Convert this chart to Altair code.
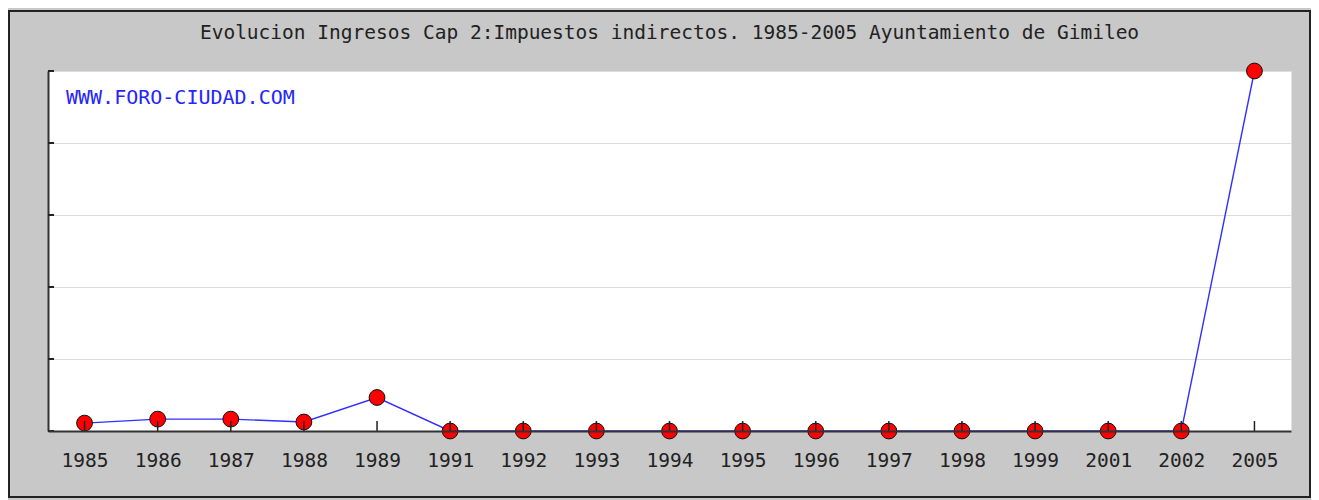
import altair as alt
import pandas as pd

years = ["1985", "1986", "1987", "1988", "1989", "1991", "1992", "1993", "1994",
         "1995", "1996", "1997", "1998", "1999", "2001", "2002", "2005"]
values = [2.2, 3.3, 3.3, 2.5, 9.3, 0, 0, 0, 0, 0, 0, 0, 0, 0, 0, 0, 100]
y_ticks = [0, 20, 40, 60, 80, 100]
title_text = "Evolucion Ingresos Cap 2:Impuestos indirectos. 1985-2005 Ayuntamiento de Gimileo"
watermark = "WWW.FORO-CIUDAD.COM"

W, H = 1243, 360
FONT = "DejaVu Sans Mono"

df = pd.DataFrame({"year": years, "value": values})
ticks_df = pd.DataFrame({"value": y_ticks})
one = pd.DataFrame({"k": [0]})

xenc = alt.X("year:O", sort=years, scale=alt.Scale(type="point", padding=0.5),
             axis=alt.Axis(title=None, ticks=False, grid=False, domain=True,
                           domainColor="#333333", domainWidth=2, zindex=1,
                           labelFont=FONT, labelFontSize=19.5, labelColor="#222222",
                           labelPadding=20, labelAngle=0))
yenc = alt.Y("value:Q", scale=alt.Scale(domain=[0, 100], nice=False, zero=True),
             axis=alt.Axis(title=None, labels=False, ticks=False, grid=True,
                           gridColor="#dcdcdc", gridWidth=1, values=y_ticks,
                           domain=True, domainColor="#333333", domainWidth=2))

frame = alt.Chart(one).mark_rect(fillOpacity=0, stroke="#222222", strokeWidth=2).encode(
    x=alt.value(-39), x2=alt.value(1262), y=alt.value(-60), y2=alt.value(426)
)

line = alt.Chart(df).mark_line(color="#3030ff", strokeWidth=1.4).encode(x=xenc, y=yenc)
points = alt.Chart(df).mark_point(filled=True, shape="circle", size=250, fill="red",
                                  stroke="#111111", strokeWidth=1, opacity=1).encode(
    x=alt.X("year:O", sort=years), y=alt.Y("value:Q"))
xticks = alt.Chart(df).mark_rule(color="#222222", strokeWidth=1.5).encode(
    x=alt.X("year:O", sort=years), y=alt.value(H), y2=alt.value(H - 10))
yticks = alt.Chart(ticks_df).mark_rule(color="#222222", strokeWidth=2).encode(
    y=alt.Y("value:Q"), x=alt.value(0), x2=alt.value(6))
wm = alt.Chart(one).mark_text(text=watermark, font=FONT, fontSize=20, color="#2525ff",
                              align="left", baseline="middle").encode(
    x=alt.value(18), y=alt.value(27))
title = alt.Chart(one).mark_text(text=title_text, font=FONT, fontSize=19.5, color="#222222",
                                 align="center", baseline="middle").encode(
    x=alt.value(W / 2), y=alt.value(-38))

chart = alt.layer(frame, line, points, xticks, yticks, wm, title).properties(
    width=W, height=H,
    autosize=alt.AutoSizeParams(type="none"),
    padding={"left": 40, "top": 63, "right": 20, "bottom": 69},
    background="#c8c8c8",
).configure_view(fill="white", stroke="transparent")

chart.save("out.html", embed_options={"renderer": "svg", "actions": False})
